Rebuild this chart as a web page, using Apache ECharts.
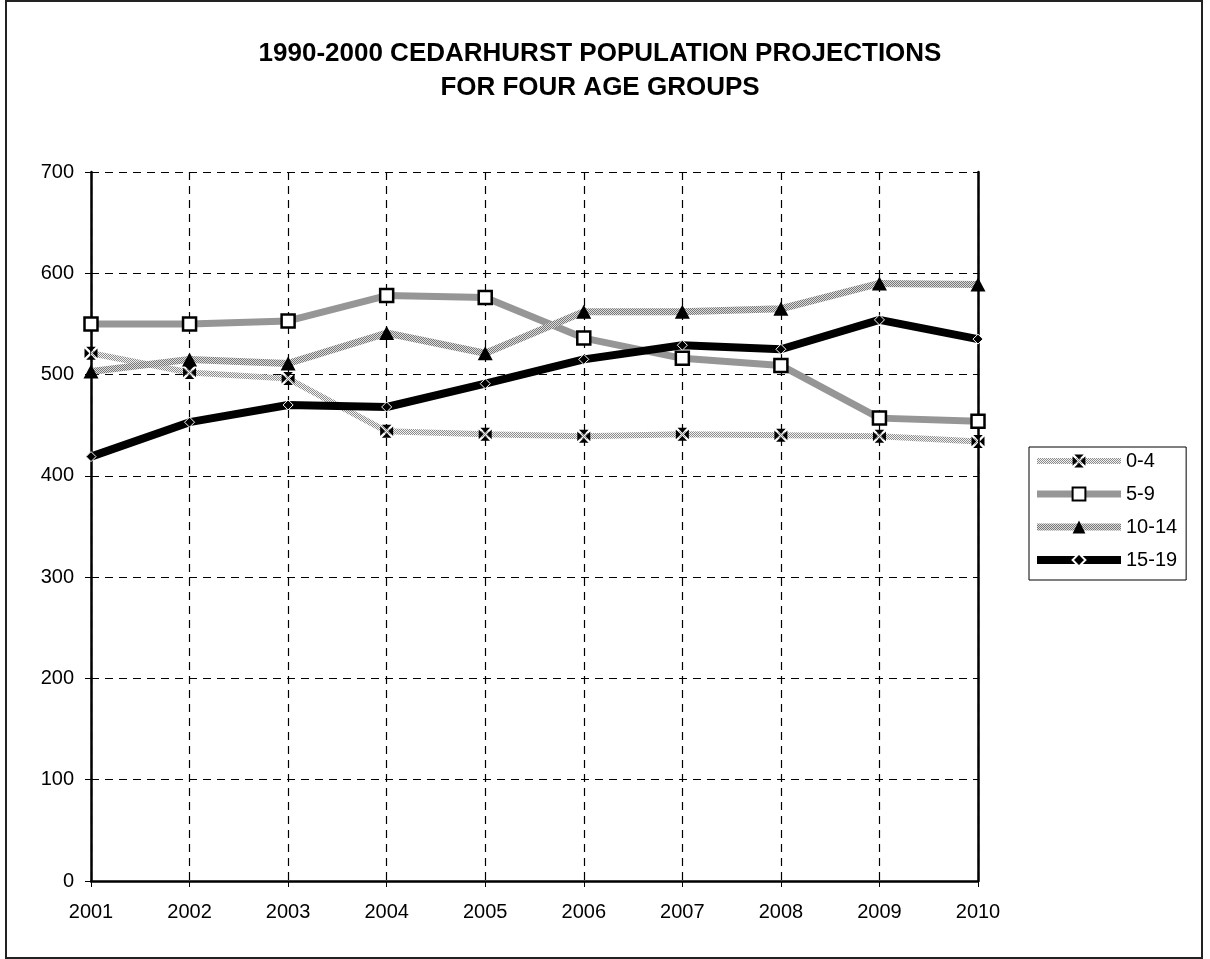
<!DOCTYPE html>
<html>
<head>
<meta charset="utf-8">
<title>Cedarhurst population projections</title>
<script src="https://cdn.jsdelivr.net/npm/echarts@6/dist/echarts.min.js"></script>
<style>
  html, body { margin: 0; padding: 0; background: #fff; }
  #chart { width: 1210px; height: 959px; }
</style>
</head>
<body>
<div id="chart"></div>
<script>
// Projection years and population counts per age group
const years = ['2001', '2002', '2003', '2004', '2005', '2006', '2007', '2008', '2009', '2010'];
const age0to4 = [521, 502, 496, 444, 441, 439, 441, 440, 439, 434];
const age5to9 = [550, 550, 553, 578, 576, 536, 516, 509, 457, 454];
const age10to14 = [503, 515, 511, 541, 521, 562, 562, 565, 590, 589];
const age15to19 = [419, 453, 470, 468, 491, 515, 529, 525, 554, 535];
const yTicks = { min: 0, max: 700, step: 100 };

const FONT = "'Liberation Sans', Arial, sans-serif";

// Fine dotted fill used for the stippled lines
function stipple(dark, light) {
  const c = document.createElement('canvas');
  c.width = 2; c.height = 2;
  const g = c.getContext('2d');
  g.fillStyle = light; g.fillRect(0, 0, 2, 2);
  g.fillStyle = dark; g.fillRect(0, 0, 1, 1); g.fillRect(1, 1, 1, 1);
  return { image: c, repeat: 'repeat' };
}

// Square split by a white cross (four black triangles)
const crossBox = 'path://M1.3,0L8.7,0L5,3.7ZM10,1.3L10,8.7L6.3,5ZM1.3,10L8.7,10L5,6.3ZM0,1.3L0,8.7L3.7,5Z';

const chart = echarts.init(document.getElementById('chart'), null, { renderer: 'canvas' });

chart.setOption({
  animation: false,
  backgroundColor: '#fff',
  title: {
    text: '1990-2000 CEDARHURST POPULATION PROJECTIONS\nFOR FOUR AGE GROUPS',
    left: 600,
    textAlign: 'center',
    top: 36.5,
    padding: 0,
    textStyle: { fontFamily: FONT, fontSize: 26, fontWeight: 'bold', color: '#000', lineHeight: 34 }
  },
  graphic: [{
    type: 'rect',
    shape: { x: 6, y: 1, width: 1196, height: 957 },
    style: { fill: 'none', stroke: '#222', lineWidth: 2 },
    silent: true,
    z: 100
  }],
  legend: {
    orient: 'vertical',
    left: 1029,
    top: 447,
    padding: [4, 9, 10, 4],
    itemWidth: 84,
    itemHeight: 16,
    itemGap: 13,
    borderColor: '#000',
    borderWidth: 1,
    lineStyle: { width: 'inherit' },
    textStyle: { fontFamily: FONT, fontSize: 20, color: '#000', lineHeight: 20 },
    data: ['0-4', '5-9', '10-14', '15-19']
  },
  grid: { left: 91, right: 232, top: 172, bottom: 78 },
  xAxis: {
    type: 'category',
    data: years,
    boundaryGap: false,
    axisLine: { lineStyle: { color: '#000', width: 2.5 } },
    axisTick: { show: true, length: 6, lineStyle: { color: '#000', width: 1 } },
    axisLabel: { fontFamily: FONT, fontSize: 20, color: '#000', margin: 21, lineHeight: 20 },
    splitLine: { show: true, interval: 0, lineStyle: { color: '#000', width: 1.2, type: [8, 6] } }
  },
  yAxis: [{
    type: 'value',
    min: yTicks.min,
    max: yTicks.max,
    interval: yTicks.step,
    axisLine: { show: true, lineStyle: { color: '#000', width: 2.5 } },
    axisTick: { show: true, length: 6, lineStyle: { color: '#000', width: 1 } },
    axisLabel: { fontFamily: FONT, fontSize: 20, color: '#000', margin: 17 },
    splitLine: { show: true, lineStyle: { color: '#000', width: 1.2, type: [8, 6] } }
  }, {
    type: 'value',
    position: 'right',
    min: yTicks.min,
    max: yTicks.max,
    interval: yTicks.step,
    axisLine: { show: true, lineStyle: { color: '#000', width: 2.5 } },
    axisTick: { show: false },
    axisLabel: { show: false },
    splitLine: { show: false }
  }],
  series: [{
    name: '0-4',
    type: 'line',
    data: age0to4,
    symbol: crossBox,
    symbolSize: 13,
    lineStyle: { color: stipple('#8c8c8c', '#f2f2f2'), width: 6 },
    itemStyle: { color: '#000', borderWidth: 0 },
    z: 2
  }, {
    name: '5-9',
    type: 'line',
    data: age5to9,
    symbol: 'rect',
    symbolSize: 13,
    lineStyle: { color: '#969696', width: 7, join: 'round' },
    itemStyle: { color: '#fff', borderColor: '#000', borderWidth: 2.5 },
    z: 3
  }, {
    name: '10-14',
    type: 'line',
    data: age10to14,
    symbol: 'triangle',
    symbolSize: [15, 14],
    lineStyle: { color: stipple('#777777', '#dcdcdc'), width: 7 },
    itemStyle: { color: '#000', borderWidth: 0 },
    z: 4
  }, {
    name: '15-19',
    type: 'line',
    data: age15to19,
    symbol: 'diamond',
    symbolSize: 10,
    lineStyle: { color: '#000', width: 8, join: 'round' },
    itemStyle: { color: '#000', borderColor: '#fff', borderWidth: 1 },
    z: 5
  }]
});
</script>
</body>
</html>
